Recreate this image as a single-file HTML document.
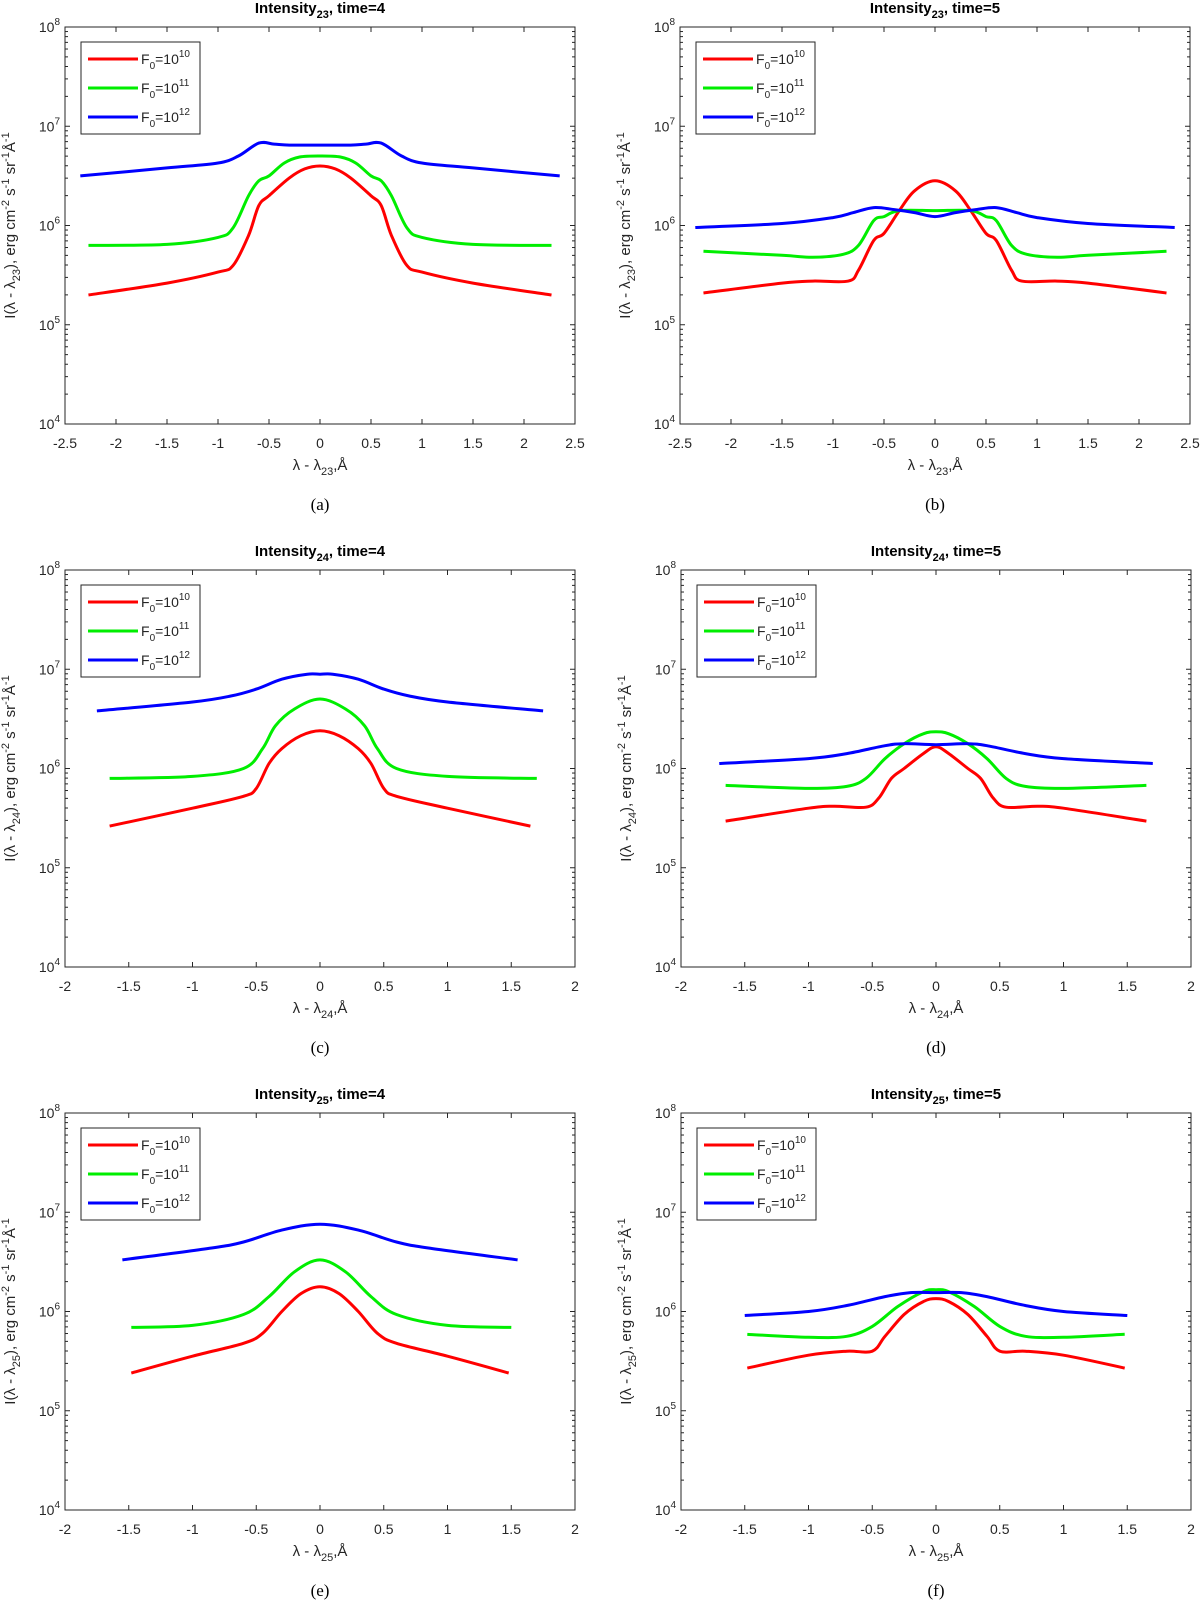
<!DOCTYPE html>
<html><head><meta charset="utf-8"><style>
body{margin:0;background:#fff;}
svg{display:block;font-family:"Liberation Sans",Arial,sans-serif;}
</style></head><body>
<svg id="fig" width="1200" height="1605" viewBox="0 0 1200 1605"></svg>
<script>
const NS="http://www.w3.org/2000/svg";
// ---- data (log10 intensity) ----
const xA=[-2.27,-1.5,-1,-0.85,-0.7,-0.6,-0.5,-0.3,-0.15,0,0.15,0.3,0.5,0.6,0.7,0.85,1,1.5,2.27];
const redA=[5.3,5.42,5.53,5.6,5.9,6.2,6.3,6.48,6.57,6.6,6.57,6.48,6.3,6.2,5.9,5.6,5.53,5.42,5.3];
const xAg=[-2.27,-1.5,-1,-0.85,-0.7,-0.6,-0.5,-0.35,-0.2,0,0.2,0.35,0.5,0.6,0.7,0.85,1,1.5,2.27];
const greenA=[5.8,5.81,5.88,5.98,6.3,6.45,6.5,6.63,6.69,6.7,6.69,6.63,6.5,6.45,6.3,5.98,5.88,5.81,5.8];
const xAb=[-2.35,-1.5,-1,-0.8,-0.6,-0.45,-0.3,0,0.3,0.45,0.6,0.8,1,1.5,2.35];
const blueA=[6.5,6.58,6.63,6.7,6.83,6.82,6.81,6.81,6.81,6.82,6.83,6.7,6.63,6.58,6.5];

const xB=[-2.27,-1.5,-1.2,-0.85,-0.75,-0.6,-0.5,-0.35,-0.2,0,0.2,0.35,0.5,0.6,0.75,0.85,1.2,1.5,2.27];
const redB=[5.32,5.42,5.44,5.44,5.55,5.85,5.92,6.15,6.35,6.45,6.35,6.15,5.92,5.85,5.55,5.44,5.44,5.42,5.32];
const xBg=[-2.27,-1.5,-1.2,-0.9,-0.75,-0.6,-0.5,-0.35,0,0.35,0.5,0.6,0.75,0.9,1.2,1.5,2.27];
const greenB=[5.74,5.7,5.68,5.71,5.8,6.05,6.09,6.15,6.15,6.15,6.09,6.05,5.8,5.71,5.68,5.7,5.74];
const xBb=[-2.35,-1.5,-1,-0.8,-0.6,-0.4,-0.2,0,0.2,0.4,0.6,0.8,1,1.5,2.35];
const blueB=[5.98,6.02,6.08,6.13,6.18,6.16,6.13,6.09,6.13,6.16,6.18,6.13,6.08,6.02,5.98];

const xC=[-1.65,-1,-0.6,-0.5,-0.4,-0.3,-0.15,0,0.15,0.3,0.4,0.5,0.6,1,1.65];
const redC=[5.42,5.6,5.72,5.8,6.05,6.2,6.33,6.38,6.33,6.2,6.05,5.8,5.72,5.6,5.42];
const xCg=[-1.65,-1,-0.6,-0.45,-0.35,-0.2,0,0.2,0.35,0.45,0.6,1,1.7];
const greenC=[5.9,5.92,6.0,6.2,6.43,6.6,6.7,6.6,6.43,6.2,6.0,5.92,5.9];
const xCb=[-1.75,-1,-0.7,-0.5,-0.3,-0.1,0,0.1,0.3,0.5,0.7,1,1.75];
const blueC=[6.58,6.67,6.73,6.8,6.9,6.95,6.95,6.95,6.9,6.8,6.73,6.67,6.58];

const xD=[-1.65,-1,-0.8,-0.55,-0.45,-0.35,-0.25,-0.1,0,0.1,0.25,0.35,0.45,0.55,0.8,1,1.65];
const redD=[5.47,5.6,5.62,5.61,5.7,5.9,6.0,6.15,6.22,6.15,6.0,5.9,5.7,5.61,5.62,5.6,5.47];
const xDg=[-1.65,-1,-0.7,-0.55,-0.4,-0.25,-0.1,0,0.1,0.25,0.4,0.55,0.7,1,1.65];
const greenD=[5.83,5.8,5.82,5.9,6.1,6.25,6.35,6.37,6.35,6.25,6.1,5.9,5.82,5.8,5.83];
const xDb=[-1.7,-1,-0.7,-0.4,-0.25,0,0.25,0.4,0.7,1,1.7];
const blueD=[6.05,6.1,6.15,6.23,6.25,6.24,6.25,6.23,6.15,6.1,6.05];

const xE=[-1.48,-1,-0.6,-0.45,-0.3,-0.15,0,0.15,0.3,0.45,0.6,1,1.48];
const redE=[5.38,5.55,5.68,5.78,6.0,6.18,6.25,6.18,6.0,5.78,5.68,5.55,5.38];
const xEg=[-1.48,-1,-0.6,-0.4,-0.2,0,0.2,0.4,0.6,1,1.5];
const greenE=[5.84,5.86,5.97,6.15,6.4,6.52,6.4,6.15,5.97,5.86,5.84];
const xEb=[-1.55,-0.85,-0.6,-0.3,0,0.3,0.6,0.85,1.55];
const blueE=[6.52,6.64,6.7,6.82,6.88,6.82,6.7,6.64,6.52];

const xF=[-1.48,-1,-0.7,-0.5,-0.4,-0.25,-0.1,0,0.1,0.25,0.4,0.5,0.7,1,1.48];
const redF=[5.43,5.56,5.6,5.6,5.75,5.97,6.1,6.13,6.1,5.97,5.75,5.6,5.6,5.56,5.43];
const xFg=[-1.48,-1,-0.7,-0.5,-0.3,-0.1,0,0.1,0.3,0.5,0.7,1,1.48];
const greenF=[5.77,5.74,5.75,5.85,6.05,6.2,6.22,6.2,6.05,5.85,5.75,5.74,5.77];
const xFb=[-1.5,-1,-0.7,-0.4,-0.2,0,0.2,0.4,0.7,1,1.5];
const blueF=[5.96,6.0,6.06,6.15,6.19,6.19,6.19,6.15,6.06,6.0,5.96];

const xticks25=["-2.5","-2","-1.5","-1","-0.5","0","0.5","1","1.5","2","2.5"];
const xticks2=["-2","-1.5","-1","-0.5","0","0.5","1","1.5","2"];
const yExps=[4,5,6,7,8];

const panels=[
 {id:"a",L:65,T:27,sub:"23",time:4,xt:xticks25,xmin:-2.5,xmax:2.5,s:[[xA,redA],[xAg,greenA],[xAb,blueA]]},
 {id:"b",L:680,T:27,sub:"23",time:5,xt:xticks25,xmin:-2.5,xmax:2.5,s:[[xB,redB],[xBg,greenB],[xBb,blueB]]},
 {id:"c",L:65,T:570,sub:"24",time:4,xt:xticks2,xmin:-2,xmax:2,s:[[xC,redC],[xCg,greenC],[xCb,blueC]]},
 {id:"d",L:681,T:570,sub:"24",time:5,xt:xticks2,xmin:-2,xmax:2,s:[[xD,redD],[xDg,greenD],[xDb,blueD]]},
 {id:"e",L:65,T:1113,sub:"25",time:4,xt:xticks2,xmin:-2,xmax:2,s:[[xE,redE],[xEg,greenE],[xEb,blueE]]},
 {id:"f",L:681,T:1113,sub:"25",time:5,xt:xticks2,xmin:-2,xmax:2,s:[[xF,redF],[xFg,greenF],[xFb,blueF]]}
];
const colors=["#ff0000","#00ee00","#0000ff"];
const names=["red","green","blue"];
const W=510,H=397;
const fig=document.getElementById("fig");
function mk(tag,attrs,parent,txt){const e=document.createElementNS(NS,tag);for(const k in attrs)e.setAttribute(k,attrs[k]);if(txt!==undefined)e.textContent=txt;(parent||fig).appendChild(e);return e;}
function smooth(pts){let d="M"+pts[0][0]+","+pts[0][1];for(let i=0;i<pts.length-1;i++){const p0=pts[i-1]||pts[i],p1=pts[i],p2=pts[i+1],p3=pts[i+2]||p2;const c1x=p1[0]+(p2[0]-p0[0])/6,c1y=p1[1]+(p2[1]-p0[1])/6,c2x=p2[0]-(p3[0]-p1[0])/6,c2y=p2[1]-(p3[1]-p1[1])/6;d+=" C"+c1x.toFixed(1)+","+c1y.toFixed(1)+" "+c2x.toFixed(1)+","+c2y.toFixed(1)+" "+p2[0].toFixed(1)+","+p2[1].toFixed(1);}return d;}
panels.forEach(p=>{
 const g=mk("g",{});
 
 
 const xs=v=>p.L+(v-p.xmin)/(p.xmax-p.xmin)*W;
 const ys=v=>p.T+H-(v-4)/4*H;
 // title
 const t=mk("text",{x:p.L+W/2,y:p.T-14,"text-anchor":"middle","font-size":"15","font-weight":"bold"},g);
 
 
 t.innerHTML='Intensity<tspan dy="5" font-size="11">'+p.sub+'</tspan><tspan dy="-5">, time='+p.time+'</tspan>';
 // axes box
 const box=mk("rect",{x:p.L,y:p.T,width:W,height:H,fill:"none",stroke:"#262626","stroke-width":"1"},g);
 
 
 // x ticks
 p.xt.forEach(lb=>{const v=parseFloat(lb),x=xs(v);
  mk("line",{x1:x,y1:p.T+H,x2:x,y2:p.T+H-5,stroke:"#262626"},g);
  mk("line",{x1:x,y1:p.T,x2:x,y2:p.T+5,stroke:"#262626"},g);
  const tl=mk("text",{x:x,y:p.T+H+24,"text-anchor":"middle","font-size":"14",fill:"#262626"},g,lb);
  
  
 });
 // y ticks
 yExps.forEach(e=>{const y=ys(e);
  mk("line",{x1:p.L,y1:y,x2:p.L+5,y2:y,stroke:"#262626"},g);
  mk("line",{x1:p.L+W,y1:y,x2:p.L+W-5,y2:y,stroke:"#262626"},g);
  const yl=mk("text",{x:p.L-5,y:y+5,"text-anchor":"end","font-size":"14",fill:"#262626"},g);
  
  
  yl.innerHTML='10<tspan dy="-7" font-size="10">'+e+'</tspan>';
  if(e<8)for(let m=2;m<10;m++){const ym=ys(e+Math.log10(m));
   mk("line",{x1:p.L,y1:ym,x2:p.L+3,y2:ym,stroke:"#262626"},g);
   mk("line",{x1:p.L+W,y1:ym,x2:p.L+W-3,y2:ym,stroke:"#262626"},g);}
 });
 // x label
 const xl=mk("text",{x:p.L+W/2,y:p.T+H+46,"text-anchor":"middle","font-size":"15",fill:"#262626"},g);
 
 
 xl.innerHTML='λ - λ<tspan dy="5" font-size="11">'+p.sub+'</tspan><tspan dy="-5">,Å</tspan>';
 // y label
 const yt=mk("text",{transform:"translate("+(p.L-50)+","+(p.T+H/2)+") rotate(-90)","text-anchor":"middle","font-size":"15",fill:"#262626"},g);
 
 
 yt.innerHTML='I(λ - λ<tspan dy="5" font-size="11">'+p.sub+'</tspan><tspan dy="-5">), erg cm</tspan><tspan dy="-6" font-size="11">-2</tspan><tspan dy="6"> s</tspan><tspan dy="-6" font-size="11">-1</tspan><tspan dy="6"> sr</tspan><tspan dy="-6" font-size="11">-1</tspan><tspan dy="6">Å</tspan><tspan dy="-6" font-size="11">-1</tspan>';
 // caption
 const cap=mk("text",{x:p.L+W/2,y:p.T+H+86,"text-anchor":"middle","font-size":"17","font-family":"Liberation Serif, serif"},g,"("+p.id+")");
 
 
 // series
 p.s.forEach((s,i)=>{const pts=s[0].map((x,k)=>[xs(x),ys(s[1][k])]);
  const path=mk("path",{d:smooth(pts),fill:"none",stroke:colors[i],"stroke-width":"3","stroke-linejoin":"round"},g);
  
  
 });
 // legend
 const lg=mk("g",{},g);
 
 
 mk("rect",{x:p.L+16,y:p.T+15,width:119,height:92,fill:"#fff",stroke:"#262626"},lg);
 ["10","11","12"].forEach((ex,i)=>{const y=p.T+32+i*29;
  const le=mk("g",{},lg);
  
  
  mk("line",{x1:p.L+23,y1:y,x2:p.L+73,y2:y,stroke:colors[i],"stroke-width":"3"},le);
  const tx=mk("text",{x:p.L+76,y:y+5,"font-size":"14",fill:"#262626"},le);
  tx.innerHTML='F<tspan dy="5" font-size="10">0</tspan><tspan dy="-5">=10</tspan><tspan dy="-7" font-size="10">'+ex+'</tspan>';
 });
});
</script>
</body></html>
